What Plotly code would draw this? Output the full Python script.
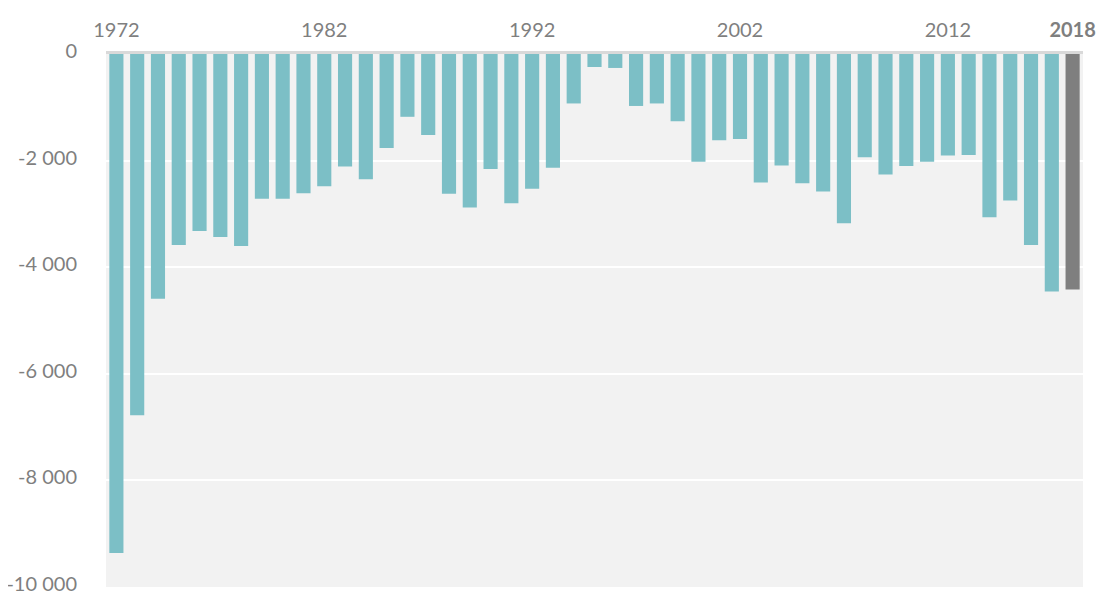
import plotly.graph_objects as go

years = list(range(1972, 2019))
values = [
    -9360, -6780, -4590, -3585, -3320, -3435, -3600, -2715, -2715, -2612,
    -2482, -2112, -2350, -1762, -1178, -1519, -2620, -2882, -2156, -2802,
    -2527, -2132, -928, -244, -262, -975, -928, -1262, -2020, -1619,
    -1595, -2413, -2094, -2426, -2582, -3176, -1938, -2262, -2100, -2020,
    -1906, -1895, -3062, -2750, -3582, -4456, -4420,
]
highlight_year = 2018
bar_color = "#7cbfc6"
highlight_color = "#7f7f7f"

x_tickvals = [1972, 1982, 1992, 2002, 2012, 2018]
x_ticktext = ["1972", "1982", "1992", "2002", "2012", "<b>2018</b>"]
y_tickvals = [0, -2000, -4000, -6000, -8000, -10000]
y_ticktext = ["0", "-2 000", "-4 000", "-6 000", "-8 000", "-10 000"]

colors = [highlight_color if y == highlight_year else bar_color for y in years]

fig = go.Figure(go.Bar(x=years, y=values, marker=dict(color=colors, line=dict(width=0)),
                       hoverinfo="x+y"))

# page body has an 8px default margin; compensate so the figure fills the window
font_family = "Lato, 'Open Sans', sans-serif"
fig.update_layout(
    width=1097, height=589,
    margin=dict(l=98, r=22, t=46, b=10),
    paper_bgcolor="white",
    plot_bgcolor="#f2f2f2",
    bargap=0.32,
    showlegend=False,
    font=dict(family=font_family, size=20, color="#7f7f7f"),
)
fig.update_xaxes(
    side="top", range=[1971.5, 2018.5], automargin=False,
    tickvals=x_tickvals, ticktext=x_ticktext,
    showgrid=False, zeroline=False,
    showline=True, linecolor="#d9d9d9", linewidth=3,
    ticks="", ticklabelstandoff=6, ticklabeloverflow="allow",
    tickfont=dict(size=20, color="#7f7f7f"),
)
fig.update_yaxes(
    range=[-10000, 0], automargin=False,
    tickvals=y_tickvals, ticktext=y_ticktext,
    showgrid=True, gridcolor="white", gridwidth=2,
    zeroline=False, showline=False, ticks="",
    ticklabelstandoff=28, ticklabeloverflow="allow", ticklabelshift=-3,
    tickfont=dict(size=20, color="#7f7f7f"),
)

fig.write_html("out.html")
